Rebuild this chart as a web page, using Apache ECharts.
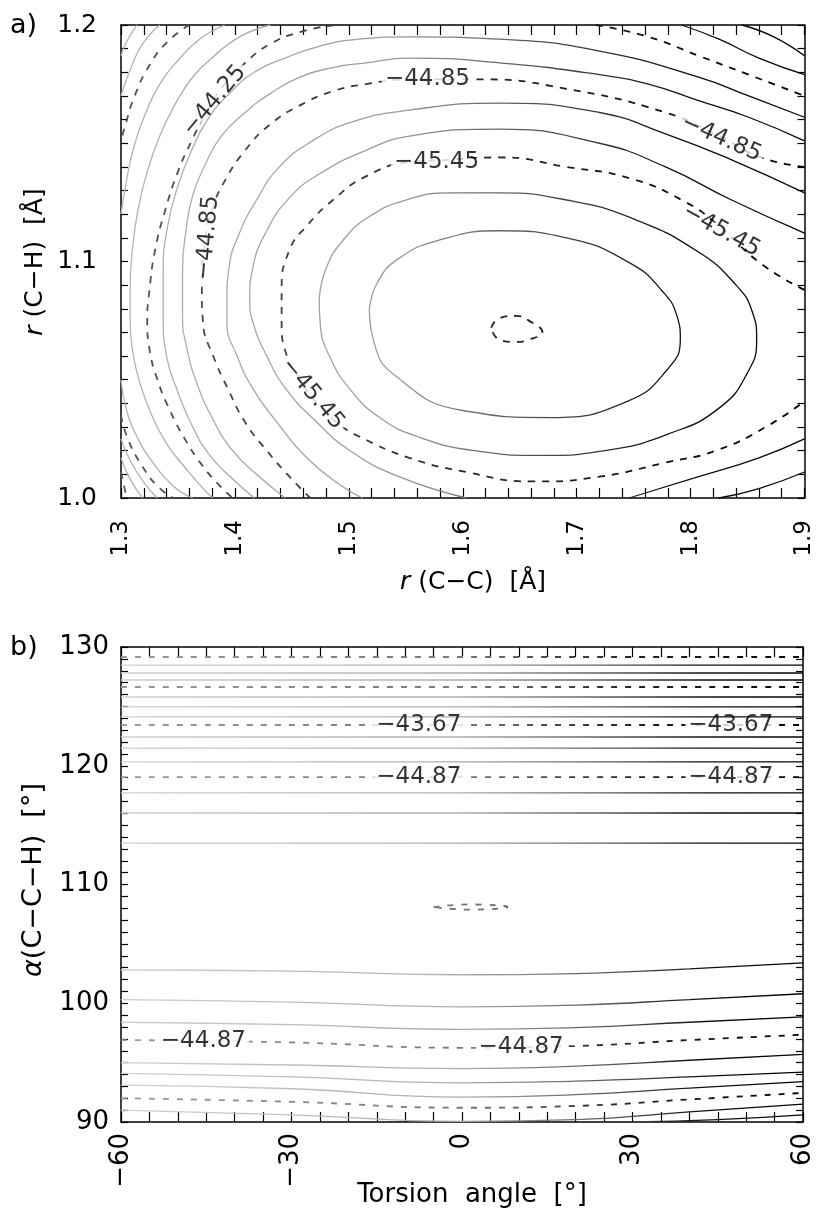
<!DOCTYPE html>
<html>
<head>
<meta charset="utf-8">
<script src="https://cdn.jsdelivr.net/npm/echarts@6/dist/echarts.min.js"></script>
<style>
  html, body { margin: 0; padding: 0; background: #fff; }
  #chart { width: 816px; height: 1222px; }
</style>
</head>
<body>
<div id="chart"></div>
<script>
// panel a) : r(C-C) / r(C-H) contours
const aC0 = [[1.625,1.072],[1.632,1.076],[1.647,1.077],[1.658,1.075],[1.670,1.070],[1.658,1.067],[1.647,1.066],[1.632,1.067],[1.625,1.072]];
const aC1 = [[1.518,1.080],[1.522,1.066],[1.540,1.052],[1.600,1.037],[1.678,1.034],[1.745,1.041],[1.779,1.054],[1.791,1.067],[1.788,1.077],[1.776,1.087],[1.748,1.099],[1.691,1.110],[1.632,1.113],[1.579,1.109],[1.543,1.101],[1.525,1.091],[1.518,1.080]];
const aC2 = [[1.474,1.084],[1.475,1.073],[1.484,1.059],[1.501,1.046],[1.527,1.034],[1.560,1.026],[1.610,1.020],[1.670,1.018],[1.725,1.020],[1.780,1.027],[1.825,1.038],[1.850,1.053],[1.858,1.067],[1.854,1.079],[1.840,1.090],[1.807,1.104],[1.750,1.118],[1.691,1.126],[1.632,1.129],[1.590,1.129],[1.550,1.126],[1.518,1.119],[1.495,1.109],[1.480,1.097],[1.474,1.084]];
const aC3 = [[1.9,1.088],[1.862,1.099],[1.825,1.115],[1.796,1.125],[1.748,1.135],[1.691,1.140],[1.632,1.144],[1.588,1.143],[1.553,1.142],[1.515,1.136],[1.486,1.126],[1.463,1.115],[1.448,1.105],[1.441,1.088],[1.441,1.074],[1.445,1.061],[1.457,1.050],[1.474,1.039],[1.492,1.031],[1.509,1.026],[1.553,1.017],[1.603,1.011],[1.661,1.007],[1.720,1.009],[1.778,1.015],[1.822,1.020],[1.866,1.030],[1.9,1.041]];
const aC4a = [[1.9,1.112],[1.836,1.126],[1.778,1.140],[1.720,1.150],[1.632,1.156],[1.553,1.153],[1.515,1.147],[1.474,1.137],[1.448,1.127],[1.428,1.113],[1.416,1.098],[1.413,1.084],[1.416,1.074],[1.428,1.060],[1.445,1.046],[1.472,1.032],[1.501,1.020],[1.544,1.009],[1.603,1.000]];
const aC4b = [[1.746,1.000],[1.807,1.009],[1.860,1.017],[1.9,1.025]];
const aC5a = [[1.9,1.129],[1.836,1.143],[1.778,1.154],[1.720,1.163],[1.632,1.167],[1.553,1.164],[1.503,1.159],[1.468,1.151],[1.439,1.140],[1.419,1.126],[1.404,1.112],[1.395,1.098],[1.393,1.084],[1.393,1.074],[1.402,1.060],[1.416,1.046],[1.437,1.032],[1.463,1.017],[1.494,1.005],[1.512,1.000]];
const aC5b = [[1.825,1.000],[1.860,1.004],[1.9,1.011]];
const aC6 = [[1.9,1.140],[1.862,1.144],[1.825,1.153],[1.778,1.163],[1.691,1.173],[1.617,1.177],[1.553,1.177],[1.515,1.175],[1.486,1.172],[1.457,1.166],[1.431,1.158],[1.409,1.147],[1.391,1.134],[1.380,1.122],[1.374,1.109],[1.371,1.088],[1.372,1.074],[1.381,1.060],[1.394,1.046],[1.409,1.032],[1.428,1.020],[1.448,1.009],[1.466,1.000]];
const aC7 = [[1.9,1.151],[1.851,1.161],[1.807,1.168],[1.763,1.175],[1.720,1.179],[1.632,1.184],[1.553,1.186],[1.515,1.184],[1.486,1.182],[1.457,1.178],[1.431,1.171],[1.409,1.163],[1.388,1.153],[1.374,1.141],[1.363,1.128],[1.357,1.113],[1.354,1.096],[1.354,1.077],[1.358,1.063],[1.367,1.048],[1.381,1.033],[1.398,1.020],[1.419,1.010],[1.444,1.000]];
const aC8 = [[1.9,1.161],[1.851,1.170],[1.807,1.178],[1.720,1.189],[1.632,1.194],[1.553,1.195],[1.509,1.194],[1.474,1.191],[1.444,1.186],[1.417,1.180],[1.395,1.171],[1.376,1.160],[1.362,1.147],[1.350,1.132],[1.341,1.115],[1.337,1.096],[1.337,1.077],[1.340,1.060],[1.349,1.046],[1.362,1.031],[1.378,1.018],[1.398,1.008],[1.417,1.000]];
const aC9a = [[1.717,1.200],[1.763,1.195],[1.807,1.187],[1.851,1.179],[1.9,1.170]];
const aC9b = [[1.487,1.200],[1.457,1.197],[1.431,1.192],[1.409,1.184],[1.391,1.175],[1.376,1.164],[1.362,1.151],[1.350,1.138],[1.339,1.122],[1.330,1.105],[1.325,1.088],[1.323,1.075],[1.325,1.063],[1.332,1.050],[1.343,1.037],[1.356,1.025],[1.371,1.014],[1.387,1.005],[1.398,1.000]];
const aC10a = [[1.792,1.200],[1.825,1.194],[1.860,1.186],[1.9,1.179]];
const aC10b = [[1.431,1.200],[1.404,1.195],[1.382,1.187],[1.363,1.178],[1.347,1.166],[1.334,1.153],[1.323,1.138],[1.315,1.122],[1.310,1.105],[1.308,1.088],[1.308,1.075],[1.311,1.060],[1.317,1.048],[1.327,1.035],[1.340,1.023],[1.356,1.013],[1.374,1.003],[1.381,1.000]];
const aC11a = [[1.845,1.200],[1.873,1.195],[1.9,1.187]];
const aC11b = [[1.391,1.200],[1.369,1.194],[1.350,1.185],[1.334,1.175],[1.321,1.162],[1.311,1.148],[1.304,1.132],[1.300,1.120]];
const aC11c = [[1.300,1.050],[1.305,1.037],[1.315,1.025],[1.328,1.015],[1.346,1.005],[1.363,1.000]];
const aC12b = [[1.360,1.200],[1.341,1.193],[1.325,1.183],[1.312,1.170],[1.304,1.158],[1.300,1.151]];
const aC12c = [[1.300,1.035],[1.306,1.025],[1.318,1.014],[1.332,1.005],[1.346,1.000]];
const aC13b = [[1.334,1.200],[1.319,1.192],[1.308,1.181],[1.300,1.170]];
const aC13c = [[1.300,1.025],[1.309,1.015],[1.321,1.006],[1.332,1.000]];
const aC14b = [[1.314,1.200],[1.305,1.193],[1.300,1.187]];
const aC14c = [[1.300,1.017],[1.308,1.008],[1.319,1.000]];
const aC15c = [[1.300,1.011],[1.305,1.000]];

// contour labels of panel a) : [x, y, text]
const labelsA = [
  [1.382, 1.168, '−44.25'],
  [1.376, 1.110, '−44.85'],
  [1.569, 1.177, '−44.85'],
  [1.827, 1.152, '−44.85'],
  [1.577, 1.142, '−45.45'],
  [1.827, 1.113, '−45.45'],
  [1.468, 1.044, '−45.45']
];

// panel b) : torsion angle / a(C-C-H) contours
const bT1 = [[-60,129.16],[60,129.16]];
const bT2 = [[-60,128.48],[60,128.48]];
const bT3 = [[-60,127.81],[60,127.81]];
const bT4 = [[-60,127.22],[60,127.22]];
const bT5 = [[-60,126.63],[60,126.63]];
const bT6 = [[-60,125.79],[60,125.79]];
const bT7 = [[-60,124.95],[60,124.95]];
const bT8 = [[-60,124.11],[60,124.11]];
const bT9 = [[-60,123.43],[60,123.43]];
const bT10 = [[-60,122.42],[60,122.42]];
const bT11 = [[-60,121.49],[60,121.49]];
const bT12 = [[-60,120.32],[60,120.32]];
const bT13 = [[-60,119.05],[60,119.05]];
const bT14 = [[-60,117.71],[60,117.71]];
const bT15 = [[-60,116.02],[60,116.02]];
const bT16 = [[-60,113.49],[60,113.49]];
const bMin = [[-5,108.1],[1.5,108.32],[8,108.1],[1.5,107.88],[-5,108.1]];
const bA = [[-60,102.8],[-30,102.7],[0,102.4],[20,102.5],[40,102.9],[60,103.4]];
const bB = [[-60,100.3],[-30,100.1],[0,99.7],[20,99.85],[40,100.3],[60,100.8]];
const bC = [[-60,98.4],[-30,98.2],[0,97.8],[20,97.95],[40,98.4],[60,98.85]];
const bD = [[-60,96.9],[-30,96.7],[0,96.25],[20,96.4],[40,96.9],[60,97.35]];
const bE = [[-60,95.0],[-30,94.8],[0,94.5],[20,94.7],[40,95.2],[60,95.7]];
const bF = [[-60,94.1],[-30,93.8],[0,93.3],[20,93.45],[40,93.8],[60,94.2]];
const bG = [[-60,93.1],[-30,92.8],[0,92.1],[20,92.3],[40,92.85],[60,93.4]];
const bH = [[-60,92.0],[-30,91.7],[0,91.2],[20,91.35],[40,91.9],[60,92.45]];
const bI = [[-60,91.0],[-30,90.6],[0,90.05],[20,90.2],[40,90.85],[60,91.5]];
const bJ = [[30,90.0],[45,90.2],[60,90.6]];

const labelsB = [
  [-7.6, 123.43, '−43.67'],
  [47.3, 123.43, '−43.67'],
  [-7.6, 119.05, '−44.87'],
  [47.3, 119.05, '−44.87'],
  [-45.5, 96.8, '−44.87'],
  [10.4, 96.33, '−44.87']
];

// which lines are dashed (every third level in a, every fourth in b)
const contoursA = [
  [aC0, true], [aC1, false], [aC2, false], [aC3, true],
  [aC4a, false], [aC4b, false], [aC5a, false], [aC5b, false],
  [aC6, true], [aC7, false], [aC8, false], [aC9a, true], [aC9b, true],
  [aC10a, false], [aC10b, false], [aC11a, false], [aC11b, false], [aC11c, false],
  [aC12b, true], [aC12c, true], [aC13b, false], [aC13c, false],
  [aC14b, false], [aC14c, false], [aC15c, true]
];
const contoursB = [
  [bT1, true], [bT2, false], [bT3, false], [bT4, false], [bT5, true],
  [bT6, false], [bT7, false], [bT8, false], [bT9, true], [bT10, false],
  [bT11, false], [bT12, false], [bT13, true], [bT14, false], [bT15, false],
  [bT16, false], [bMin, true], [bA, false], [bB, false], [bC, false],
  [bD, true], [bE, false], [bF, false], [bG, false], [bH, true], [bI, false], [bJ, false]
];
const labelRotA = [50, 85, 0, -24, 0, -29, -50];

const FONT = 'DejaVu Sans';
const myChart = echarts.init(document.getElementById('chart'));

// the scan is faint on the left and black on the right
function grad(stops) {
  return new echarts.graphic.LinearGradient(121, 0, 806, 0,
    stops.map(s => ({offset: s[0], color: s[1]})), true);
}
const solidA = grad([[0, '#b4b4b4'], [0.4, '#9a9a9a'], [0.65, '#444'], [0.8, '#111'], [1, '#000']]);
const dashA = grad([[0, '#555'], [0.6, '#222'], [1, '#000']]);
const solidB = grad([[0, '#d0d0d0'], [0.5, '#acacac'], [0.72, '#555'], [0.85, '#111'], [1, '#000']]);
const dashB = grad([[0, '#999'], [0.5, '#777'], [0.75, '#222'], [1, '#000']]);

function contourSeries(list, axis, solidCol, dashCol, dashPattern) {
  return list.map(c => ({
    type: 'line',
    xAxisIndex: axis, yAxisIndex: axis,
    data: c[0],
    showSymbol: false,
    smooth: 0.5,
    clip: true,
    silent: true,
    lineStyle: c[1]
      ? {color: dashCol, width: 1.8, type: dashPattern}
      : {color: solidCol, width: 1.3, type: 'solid'},
    z: 2
  }));
}

function labelSeries(list, rots, axis) {
  return {
    type: 'scatter',
    xAxisIndex: axis, yAxisIndex: axis,
    symbolSize: 2,
    itemStyle: {color: 'rgba(255,255,255,0)'},
    silent: true,
    z: 10,
    data: list.map((l, i) => ({
      value: [l[0], l[1]], name: l[2],
      label: {rotate: rots ? rots[i] : 0}
    })),
    label: {
      show: true, position: 'inside', formatter: p => p.name,
      fontFamily: FONT, fontSize: 23, color: '#000',
      backgroundColor: '#fff', lineHeight: 8, padding: [0, 3]
    },
    labelLayout: {hideOverlap: false}
  };
}

function frameAxis(grid, pos, min, max, interval, split, len, label) {
  return {
    type: 'value', gridIndex: grid, position: pos,
    min: min, max: max, interval: interval,
    axisLine: {show: true, onZero: false, lineStyle: {color: '#000', width: 1.5}},
    axisTick: {show: true, inside: true, length: len, lineStyle: {color: '#000', width: 1.2}},
    minorTick: {show: true, splitNumber: split, length: len, lineStyle: {color: '#000', width: 1.2}},
    splitLine: {show: false},
    minorSplitLine: {show: false},
    axisLabel: label ? Object.assign({show: true, color: '#000', fontFamily: FONT}, label) : {show: false}
  };
}

const fmtA = v => v.toFixed(1);
const fmtB = v => (v < 0 ? '−' + (-v) : String(v));

const option = {
  animation: false,
  backgroundColor: '#fff',
  grid: [
    {left: 121, top: 25, width: 685, height: 473},
    {left: 121, top: 647, width: 685, height: 475}
  ],
  xAxis: [
    frameAxis(0, 'bottom', 1.3, 1.9, 0.1, 5, 10, {rotate: 90, margin: 22, fontSize: 23, formatter: fmtA}),
    frameAxis(0, 'top', 1.3, 1.9, 0.1, 5, 10, null),
    frameAxis(1, 'bottom', -60, 60, 30, 6, 10, {rotate: 90, margin: 11, fontSize: 26, formatter: fmtB}),
    frameAxis(1, 'top', -60, 60, 30, 6, 10, null)
  ],
  yAxis: [
    frameAxis(0, 'left', 1.0, 1.2, 0.1, 10, 7, {margin: 24, fontSize: 25, formatter: fmtA}),
    frameAxis(0, 'right', 1.0, 1.2, 0.1, 10, 7, null),
    frameAxis(1, 'left', 90, 130, 10, 10, 7, {margin: 12, fontSize: 26, formatter: fmtB}),
    frameAxis(1, 'right', 90, 130, 10, 10, 7, null)
  ],
  series: [].concat(
    contourSeries(contoursA, 0, solidA, dashA, [7, 7]),
    contourSeries(contoursB, 2, solidB, dashB, [6, 8]),
    [labelSeries(labelsA, labelRotA, 0), labelSeries(labelsB, null, 2)]
  ),
  graphic: [
    {type: 'text', x: 10, y: 26, style: {text: 'a)', fontSize: 27, fontFamily: FONT, fill: '#000', align: 'left', verticalAlign: 'middle'}},
    {type: 'text', x: 10, y: 648, style: {text: 'b)', fontSize: 27, fontFamily: FONT, fill: '#000', align: 'left', verticalAlign: 'middle'}},
    {type: 'text', x: 473, y: 582, style: {
      text: '{i|r} (C−C)  [Å]', fontSize: 25, fontFamily: FONT, fill: '#000', align: 'center', verticalAlign: 'middle',
      rich: {i: {fontStyle: 'italic', fontSize: 25, fontFamily: FONT}}}},
    {type: 'text', x: 35, y: 262, rotation: Math.PI / 2, style: {
      text: '{i|r} (C−H)  [Å]', fontSize: 25, fontFamily: FONT, fill: '#000', align: 'center', verticalAlign: 'middle',
      rich: {i: {fontStyle: 'italic', fontSize: 25, fontFamily: FONT}}}},
    {type: 'text', x: 472, y: 1195, style: {
      text: 'Torsion  angle  [°]', fontSize: 26, fontFamily: FONT, fill: '#000', align: 'center', verticalAlign: 'middle'}},
    {type: 'text', x: 34, y: 880, rotation: Math.PI / 2, style: {
      text: '{i|α}(C−C−H)  [°]', fontSize: 27, fontFamily: FONT, fill: '#000', align: 'center', verticalAlign: 'middle',
      rich: {i: {fontStyle: 'italic', fontSize: 27, fontFamily: FONT}}}}
  ]
};

myChart.setOption(option);
</script>
</body>
</html>
